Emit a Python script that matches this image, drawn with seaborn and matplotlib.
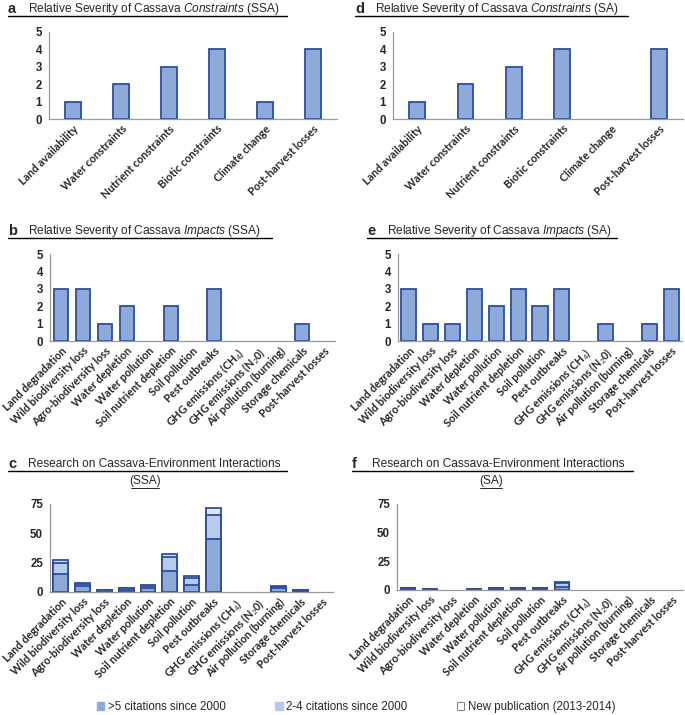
"""Cassava constraints / impacts / research panels (SSA vs SA)."""
import matplotlib

matplotlib.use("Agg")
import matplotlib.pyplot as plt  # noqa: E402
import numpy as np  # noqa: E402
import seaborn as sns  # noqa: E402
from matplotlib.lines import Line2D  # noqa: E402
from matplotlib.patches import Patch  # noqa: E402

FILL = "#8EAADB"
EDGE = "#2C4E9C"
MID = "#B7CBEA"
LIGHT = "#DDE6F4"
AXIS = "#9A9A9A"
W, H = 685, 715

CONSTRAINTS = ["Land availability", "Water constraints", "Nutrient constraints",
               "Biotic constraints", "Climate change", "Post-harvest losses"]
IMPACTS = ["Land degradation", "Wild biodiversity loss", "Agro-biodiversity loss",
           "Water depletion", "Water pollution", "Soil nutrient depletion",
           "Soil pollution", "Pest outbreaks", "GHG emissions (CH$_4$)",
           "GHG emissions (N$_2$0)", "Air pollution (burning)", "Storage chemicals",
           "Post-harvest losses"]

constraints_ssa = [1, 2, 3, 4, 1, 4]
constraints_sa = [1, 2, 3, 4, 0, 4]
impacts_ssa = [3, 3, 1, 2, 0, 2, 0, 3, 0, 0, 0, 1, 0]
impacts_sa = [3, 1, 1, 3, 2, 3, 2, 3, 0, 1, 0, 1, 3]

# research counts: >5 citations, 2-4 citations, new publications
cited5_ssa = [15, 5, 0, 2, 3, 18, 6, 45, 0, 0, 3, 1, 0]
cited2_ssa = [10, 2, 2, 1, 2, 12, 6, 21, 0, 0, 1, 1, 0]
new_ssa = [2, 1, 0, 0, 1, 2, 2, 6, 0, 0, 1, 0, 0]
cited5_sa = [1, 0, 0, 0, 1, 1, 1, 3, 0, 0, 0, 0, 0]
cited2_sa = [1, 1, 0, 1, 1, 1, 1, 3, 0, 0, 0, 0, 0]
new_sa = [0, 0, 0, 0, 0, 0, 0, 1, 0, 0, 0, 0, 0]

LEGEND = [">5 citations since 2000", "2-4 citations since 2000", "New publication (2013-2014)"]

sns.set_style("white")
plt.rcParams["font.family"] = ["Liberation Sans", "DejaVu Sans"]
plt.rcParams["mathtext.fontset"] = "custom"
plt.rcParams["mathtext.rm"] = "Liberation Sans"
plt.rcParams["mathtext.it"] = "Liberation Sans:italic"
plt.rcParams["mathtext.bf"] = "Liberation Sans:bold"

fig = plt.figure(figsize=(W / 100, H / 100), dpi=100)


def add_ax(left, right, top, bottom):
    return fig.add_axes([left / W, 1 - bottom / H, (right - left) / W, (bottom - top) / H])


def style(ax, cats, ymax, step):
    n = len(cats)
    for p in ax.patches:
        if p.get_height() == 0:
            p.set_visible(False)
    ax.set_xlim(-0.5, n - 0.5)
    ax.set_ylim(0, ymax)
    ax.set_yticks(np.arange(0, ymax + step / 2, step))
    ax.set_xticks(np.arange(n))
    ax.set_xticks(np.arange(-0.5, n), minor=True)
    ax.set_xticklabels(cats, rotation=45, ha="right", rotation_mode="anchor",
                       fontsize=7.8, fontfamily=["Lato", "DejaVu Sans"], fontweight="bold")
    for lab in ax.get_yticklabels():
        lab.set_fontweight("bold")
        lab.set_fontsize(8.3)
    ax.tick_params(axis="x", which="major", length=0, pad=3)
    ax.tick_params(axis="x", which="minor", length=4, width=0.8, color=AXIS, direction="out")
    ax.tick_params(axis="y", length=3, width=0.8, color=AXIS, direction="out", pad=2)
    ax.set_xlabel("")
    ax.set_ylabel("")
    for side in ("top", "right"):
        ax.spines[side].set_visible(False)
    for side in ("left", "bottom"):
        ax.spines[side].set_color(AXIS)
        ax.spines[side].set_linewidth(0.9)
    ax.set_facecolor("none")


def simple(ax, cats, vals, width):
    sns.barplot(x=cats, y=vals, ax=ax, color=FILL, saturation=1, width=width,
                edgecolor=EDGE, linewidth=1.3)
    style(ax, cats, 5, 1)


def stacked(ax, cats, a, b, c):
    a, b, c = map(np.array, (a, b, c))
    # overlay cumulative totals: full stack first, then lower segments on top
    for vals, col in ((a + b + c, LIGHT), (a + b, MID), (a, FILL)):
        sns.barplot(x=cats, y=vals, ax=ax, color=col, saturation=1, width=0.68,
                    edgecolor=EDGE, linewidth=1.3)
    style(ax, cats, 75, 25)


simple(add_ax(49, 337, 32, 119), CONSTRAINTS, constraints_ssa, 0.32)
simple(add_ax(393, 683, 32, 119), CONSTRAINTS, constraints_sa, 0.33)
simple(add_ax(50, 335, 254, 341), IMPACTS, impacts_ssa, 0.64)
simple(add_ax(398, 682, 254, 341), IMPACTS, impacts_sa, 0.69)
stacked(add_ax(50, 333, 504, 592), IMPACTS, cited5_ssa, cited2_ssa, new_ssa)
stacked(add_ax(397, 683, 504, 590), IMPACTS, cited5_sa, cited2_sa, new_sa)


def underline(x0, x1, y, lw=1.0):
    fig.add_artist(Line2D([x0 / W, x1 / W], [1 - y / H, 1 - y / H], color="black", lw=lw))


def title(letter, x, y, text, x1, uy):
    fig.text(x / W, 1 - y / H, letter, fontsize=10.5, fontweight="bold", va="center")
    fig.text((x + 20) / W, 1 - y / H, text, fontsize=8.6, va="center")
    underline(x, x1, uy)


title("a", 8, 9, r"Relative Severity of Cassava $\it{Constraints}$ (SSA)", 287, 16)
title("d", 355, 9, r"Relative Severity of Cassava $\it{Constraints}$ (SA)", 628, 16)
title("b", 8, 231, r"Relative Severity of Cassava $\it{Impacts}$ (SSA)", 272, 238)
title("e", 367, 231, r"Relative Severity of Cassava $\it{Impacts}$ (SA)", 617, 238)
title("c", 8, 464, "Research on Cassava-Environment Interactions", 287, 471)
title("f", 352, 464, "Research on Cassava-Environment Interactions", 633, 471)
for cx, lab in ((145, "(SSA)"), (491, "(SA)")):
    fig.text(cx / W, 1 - 481 / H, lab, fontsize=8.6, ha="center", va="center")
    half = 14 if lab == "(SSA)" else 11
    underline(cx - half, cx + half, 488, lw=0.6)

handles = [Patch(facecolor=FILL, edgecolor=FILL),
           Patch(facecolor=MID, edgecolor=MID),
           Patch(facecolor="white", edgecolor="#808080", linewidth=0.7)]
fig.legend(handles, LEGEND, loc="center", bbox_to_anchor=(356 / W, 1 - 707 / H), ncol=3,
           frameon=False, fontsize=8.3, handlelength=0.65, handleheight=0.65,
           handletextpad=0.3, columnspacing=4.3)

fig.savefig("out.png", dpi=100)
